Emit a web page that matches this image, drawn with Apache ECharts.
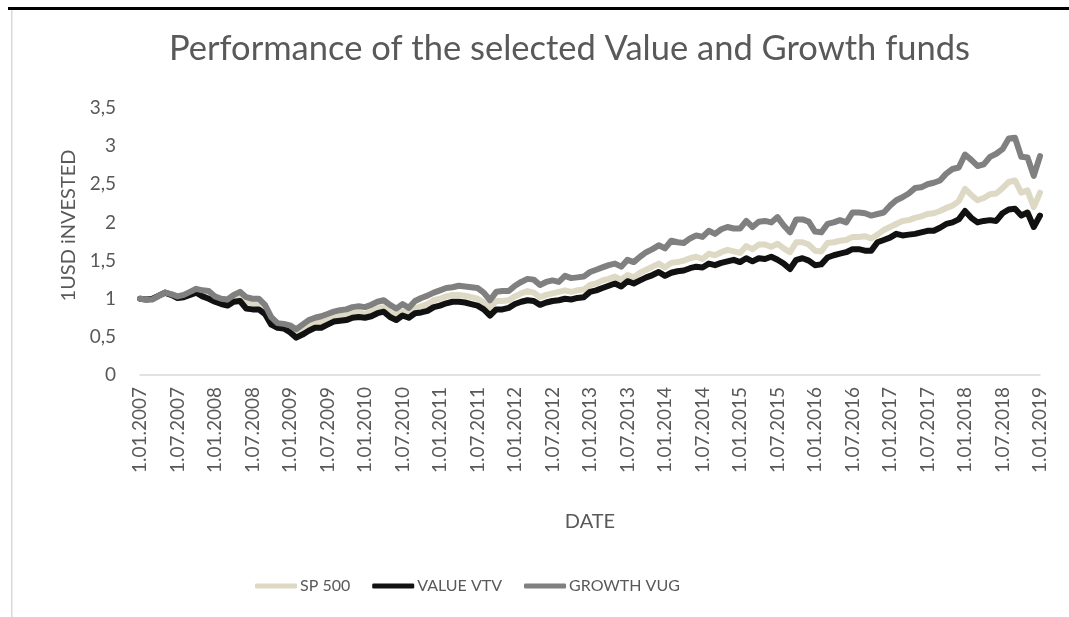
<!DOCTYPE html>
<html>
<head>
<meta charset="utf-8">
<script src="https://cdn.jsdelivr.net/npm/echarts@6/dist/echarts.min.js"></script>
<style>
  html, body { margin: 0; padding: 0; background: #fff; }
  #main { width: 1069px; height: 617px; }
</style>
</head>
<body>
<div id="main"></div>
<script>
// monthly dates 1.01.2007 .. 1.01.2019
const dates = [];
for (let y = 2007; y <= 2019; y++) {
    for (let m = 1; m <= 12; m++) {
        if (y === 2019 && m > 1) break;
        dates.push('1.' + (m < 10 ? '0' + m : m) + '.' + y);
    }
}

const sp500 = [
    1.00, 0.99, 0.99, 1.03, 1.07, 1.05, 1.02, 1.03, 1.07, 1.10, 1.06, 1.05,
    0.99, 0.96, 0.95, 1.00, 1.03, 0.95, 0.94, 0.93, 0.85, 0.71, 0.66, 0.66,
    0.61, 0.55, 0.60, 0.66, 0.69, 0.70, 0.73, 0.76, 0.78, 0.79, 0.81, 0.82,
    0.80, 0.83, 0.87, 0.89, 0.82, 0.78, 0.83, 0.80, 0.87, 0.90, 0.93, 0.98,
    1.00, 1.03, 1.05, 1.05, 1.04, 1.02, 1.00, 0.95, 0.88, 0.97, 0.97, 0.98,
    1.03, 1.07, 1.10, 1.08, 1.02, 1.05, 1.07, 1.09, 1.11, 1.09, 1.11, 1.12,
    1.18, 1.20, 1.24, 1.26, 1.29, 1.25, 1.31, 1.28, 1.34, 1.38, 1.42, 1.46,
    1.41, 1.47, 1.48, 1.50, 1.53, 1.55, 1.52, 1.59, 1.57, 1.61, 1.64, 1.62,
    1.60, 1.69, 1.65, 1.71, 1.71, 1.68, 1.72, 1.66, 1.61, 1.74, 1.74, 1.71,
    1.63, 1.62, 1.73, 1.74, 1.76, 1.77, 1.81, 1.81, 1.82, 1.79, 1.84, 1.90,
    1.94, 1.98, 2.02, 2.03, 2.06, 2.08, 2.11, 2.12, 2.15, 2.19, 2.22, 2.28,
    2.44, 2.36, 2.29, 2.32, 2.37, 2.38, 2.45, 2.53, 2.55, 2.39, 2.42, 2.20,
    2.39
];

const valueVtv = [
    1.00, 0.99, 1.00, 1.04, 1.08, 1.05, 1.01, 1.02, 1.05, 1.08, 1.03, 1.00,
    0.96, 0.93, 0.91, 0.96, 0.97, 0.87, 0.86, 0.86, 0.80, 0.66, 0.62, 0.61,
    0.56, 0.49, 0.53, 0.58, 0.62, 0.62, 0.66, 0.70, 0.71, 0.72, 0.75, 0.76,
    0.75, 0.77, 0.81, 0.83, 0.76, 0.72, 0.78, 0.75, 0.81, 0.82, 0.84, 0.89,
    0.91, 0.94, 0.96, 0.96, 0.95, 0.93, 0.91, 0.86, 0.78, 0.86, 0.86, 0.88,
    0.93, 0.96, 0.98, 0.97, 0.92, 0.95, 0.97, 0.98, 1.00, 0.99, 1.01, 1.02,
    1.09, 1.11, 1.14, 1.17, 1.20, 1.16, 1.23, 1.20, 1.24, 1.28, 1.31, 1.35,
    1.30, 1.34, 1.36, 1.37, 1.40, 1.42, 1.41, 1.46, 1.44, 1.47, 1.49, 1.51,
    1.48, 1.53, 1.49, 1.53, 1.52, 1.55, 1.51, 1.46, 1.39, 1.51, 1.53, 1.50,
    1.44, 1.45, 1.54, 1.57, 1.59, 1.61, 1.65, 1.65, 1.63, 1.63, 1.74, 1.77,
    1.80, 1.85, 1.83, 1.84, 1.85, 1.87, 1.89, 1.89, 1.93, 1.98, 2.00, 2.04,
    2.15, 2.06, 2.00, 2.02, 2.03, 2.02, 2.12, 2.17, 2.18, 2.09, 2.13, 1.94,
    2.09
];

const growthVug = [
    1.00, 0.99, 0.99, 1.04, 1.08, 1.06, 1.03, 1.05, 1.09, 1.13, 1.11, 1.10,
    1.03, 1.00, 0.99, 1.05, 1.09, 1.02, 1.00, 1.00, 0.92, 0.76, 0.68, 0.67,
    0.65, 0.60, 0.66, 0.72, 0.75, 0.77, 0.80, 0.83, 0.85, 0.86, 0.89, 0.90,
    0.89, 0.92, 0.96, 0.98, 0.92, 0.87, 0.93, 0.88, 0.97, 1.01, 1.04, 1.08,
    1.11, 1.14, 1.15, 1.17, 1.16, 1.15, 1.14, 1.08, 0.98, 1.09, 1.10, 1.10,
    1.17, 1.22, 1.26, 1.25, 1.18, 1.22, 1.24, 1.22, 1.30, 1.27, 1.28, 1.29,
    1.35, 1.38, 1.41, 1.44, 1.46, 1.42, 1.51, 1.48, 1.55, 1.61, 1.65, 1.70,
    1.66, 1.76, 1.74, 1.73, 1.79, 1.83, 1.81, 1.89, 1.85, 1.91, 1.94, 1.92,
    1.92, 2.02, 1.94, 2.01, 2.02, 2.00, 2.07, 1.96, 1.87, 2.04, 2.04, 2.01,
    1.88, 1.87, 1.98, 2.00, 2.03, 2.00, 2.13, 2.13, 2.12, 2.09, 2.11, 2.13,
    2.22, 2.29, 2.33, 2.38, 2.45, 2.46, 2.50, 2.52, 2.55, 2.64, 2.70, 2.72,
    2.89, 2.82, 2.74, 2.76, 2.86, 2.90, 2.96, 3.10, 3.11, 2.86, 2.85, 2.61,
    2.87
];

const seriesNames = ['SP 500', 'VALUE VTV', 'GROWTH VUG'];
const seriesColors = ['#ddd9c4', '#111111', '#808080'];

const chart = echarts.init(document.getElementById('main'));
const font = 'Lato, "Open Sans", sans-serif';

function lineSeries(name, data, color) {
    return {
        name: name,
        type: 'line',
        data: data,
        symbol: 'none',
        color: color,
        lineStyle: { width: 6, color: color, join: 'round', cap: 'round' }
    };
}

const option = {
    animation: false,
    backgroundColor: '#fff',
    title: {
        text: 'Performance of the selected Value and Growth funds',
        left: 164,
        top: 26,
        textStyle: { fontFamily: font, fontSize: 34.5, fontWeight: 'normal', color: '#595959' }
    },
    legend: {
        data: seriesNames,
        left: 250,
        top: 573,
        icon: 'roundRect',
        itemWidth: 42,
        itemHeight: 5,
        itemGap: 22,
        textStyle: { fontFamily: font, fontSize: 16, color: '#595959', padding: [0, 0, 0, -2] }
    },
    grid: { left: 140, right: 29, top: 108, bottom: 242 },
    xAxis: {
        type: 'category',
        data: dates,
        boundaryGap: false,
        name: 'DATE',
        nameLocation: 'middle',
        nameGap: 137,
        nameTextStyle: { fontFamily: font, fontSize: 20, color: '#595959' },
        axisLine: { lineStyle: { color: '#d9d9d9', width: 1.5 } },
        axisTick: { show: false },
        axisLabel: {
            interval: 5,
            rotate: 90,
            margin: 12,
            fontFamily: font,
            fontSize: 19,
            color: '#595959'
        }
    },
    yAxis: {
        type: 'value',
        min: 0,
        max: 3.5,
        interval: 0.5,
        name: '1USD iNVESTED',
        nameLocation: 'middle',
        nameGap: 48,
        nameTextStyle: { fontFamily: font, fontSize: 20, color: '#595959', padding: [0, 0, 0, 32] },
        axisLine: { show: false },
        axisTick: { show: false },
        splitLine: { show: false },
        axisLabel: {
            margin: 24,
            fontFamily: font,
            fontSize: 19,
            color: '#595959',
            formatter: function (v) { return String(v).replace('.', ','); }
        }
    },
    graphic: [
        { type: 'rect', shape: { x: 8, y: 7, width: 1061, height: 3 }, style: { fill: '#000' } },
        { type: 'rect', shape: { x: 11, y: 10, width: 1.5, height: 607 }, style: { fill: '#d9d9d9' } }
    ],
    series: [
        lineSeries(seriesNames[0], sp500, seriesColors[0]),
        lineSeries(seriesNames[1], valueVtv, seriesColors[1]),
        lineSeries(seriesNames[2], growthVug, seriesColors[2])
    ]
};

chart.setOption(option);
</script>
</body>
</html>
